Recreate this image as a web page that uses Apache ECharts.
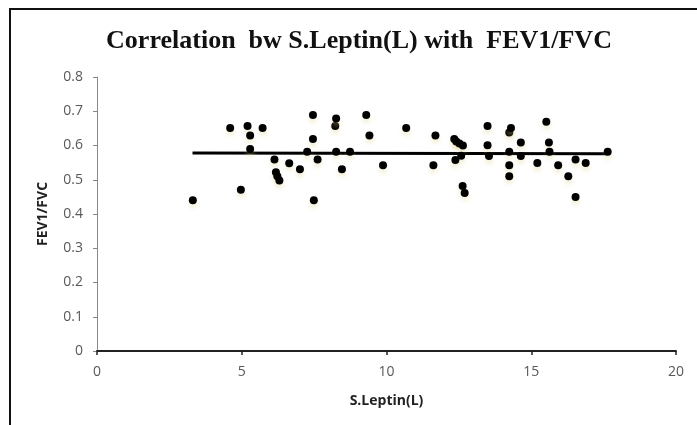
<!DOCTYPE html>
<html>
<head>
<meta charset="utf-8">
<script src="https://cdn.jsdelivr.net/npm/echarts@6/dist/echarts.min.js"></script>
<style>
html,body{margin:0;padding:0;background:#fff;}
#frame{position:absolute;left:9px;top:8px;width:700px;height:430px;border-left:2px solid #111;border-top:2px solid #111;}
#chart{position:absolute;left:0;top:0;width:697px;height:425px;}
</style>
</head>
<body>
<div id="frame"></div>
<div id="chart"></div>
<script>
const leptin = [3.31,4.60,4.97,5.20,5.29,5.29,5.72,6.13,6.18,6.23,6.30,6.64,7.01,7.26,7.46,7.46,7.49,7.62,8.23,8.26,8.26,8.46,8.74,9.30,9.41,9.88,10.68,11.62,11.69,12.34,12.41,12.52,12.64,12.58,12.38,12.63,12.70,13.49,13.49,13.54,14.24,14.30,14.24,14.24,14.24,14.64,14.64,15.21,15.52,15.61,15.63,15.93,16.28,16.53,16.53,16.88,17.64];
const fev1fvc = [0.440,0.651,0.471,0.657,0.629,0.590,0.651,0.559,0.522,0.510,0.498,0.548,0.531,0.582,0.689,0.619,0.440,0.559,0.657,0.679,0.582,0.531,0.582,0.689,0.629,0.542,0.651,0.542,0.629,0.619,0.612,0.606,0.600,0.570,0.558,0.482,0.461,0.657,0.601,0.569,0.638,0.651,0.582,0.542,0.510,0.609,0.569,0.549,0.669,0.609,0.582,0.542,0.510,0.559,0.450,0.549,0.582];
const trendX = [3.3, 17.64];
const trendY = [0.578, 0.576];
const xTicks = [0,5,10,15,20];
const yTicks = [0,0.1,0.2,0.3,0.4,0.5,0.6,0.7,0.8];

const points = leptin.map((x,i)=>[x,fev1fvc[i]]);
const trend = trendX.map((x,i)=>[x,trendY[i]]);

const chart = echarts.init(document.getElementById('chart'), null, {renderer:'canvas'});
chart.setOption({
  animation:false,
  backgroundColor:'transparent',
  title:{
    text:'Correlation  bw S.Leptin(L) with  FEV1/FVC',
    left:354, top:23, textAlign:'center',
    textStyle:{fontFamily:'Liberation Serif',fontWeight:'bold',fontSize:26,color:'#111'}
  },
  grid:{left:97,right:21,top:77,bottom:74},
  xAxis:{
    type:'value',min:0,max:20,interval:5,
    name:'S.Leptin(L)',nameLocation:'middle',nameGap:43,
    nameTextStyle:{fontFamily:'Open Sans',fontWeight:'bold',fontSize:14,color:'#222'},
    axisLine:{show:true,onZero:false,lineStyle:{color:'#222',width:2}},
    axisTick:{show:true,length:4,inside:false,lineStyle:{color:'#222',width:1.5}},
    axisLabel:{fontFamily:'Open Sans',fontSize:14,color:'#595959',margin:14,
      formatter:v=>xTicks.includes(v)?String(v):''},
    splitLine:{show:false}
  },
  yAxis:{
    type:'value',min:0,max:0.8,interval:0.1,
    name:'FEV1/FVC',nameLocation:'middle',nameGap:47,nameRotate:90,
    nameTextStyle:{fontFamily:'Open Sans',fontWeight:'bold',fontSize:14,color:'#222'},
    axisLine:{show:true,lineStyle:{color:'#888',width:1}},
    axisTick:{show:true,length:4,lineStyle:{color:'#888',width:1}},
    axisLabel:{fontFamily:'Open Sans',fontSize:14,color:'#595959',margin:14,
      formatter:v=>{const t=yTicks.find(t=>Math.abs(t-v)<1e-9);return t===undefined?'':(t===0?'0':t.toFixed(1));}},
    splitLine:{show:false}
  },
  series:[
    {type:'line',data:trend,symbol:'none',lineStyle:{color:'#000',width:3},z:2},
    {type:'scatter',data:points,symbol:'circle',symbolSize:8,
      itemStyle:{color:'#000',opacity:1,shadowColor:'rgba(220,205,130,0.3)',shadowBlur:4,shadowOffsetY:4},z:3}
  ]
});
</script>
</body>
</html>
